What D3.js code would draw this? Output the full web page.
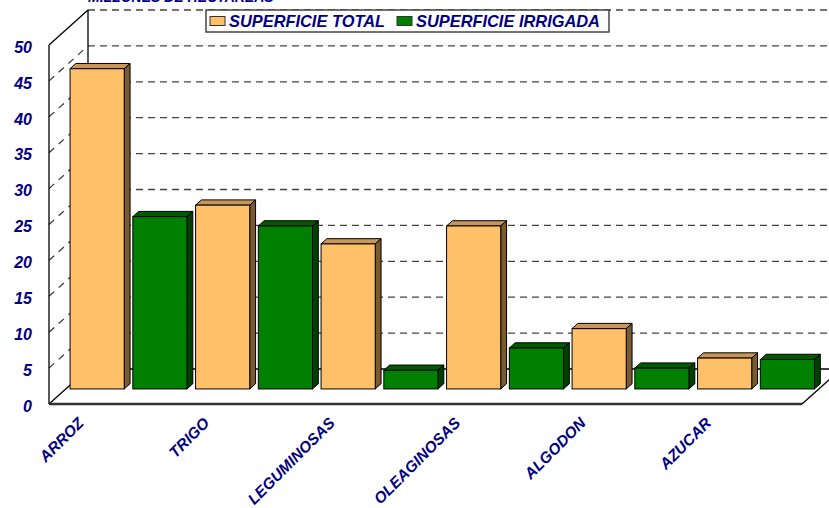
<!DOCTYPE html>
<html>
<head>
<meta charset="utf-8">
<script src="https://cdn.jsdelivr.net/npm/d3@7"></script>
<style>
  body { margin: 0; background: #fff; }
  svg { display: block; }
  text { font-family: Arial, "Liberation Sans", sans-serif; font-weight: bold; font-style: italic; fill: #000080; }
</style>
</head>
<body>
<div id="chart"></div>
<script>
const categories = ["ARROZ", "TRIGO", "LEGUMINOSAS", "OLEAGINOSAS", "ALGODON", "AZUCAR"];
const seriesNames = ["SUPERFICIE TOTAL", "SUPERFICIE IRRIGADA"];
const total = [44.6, 25.6, 20.2, 22.7, 8.4, 4.3];
const irrigada = [24.0, 22.7, 2.6, 5.7, 2.9, 4.1];
const yTicks = [0, 5, 10, 15, 20, 25, 30, 35, 40, 45, 50];

const width = 829, height = 508;

// 3d look: shift from front edge to back wall
const depthX = 39, depthY = -35;
const barF = 0.43, barDepth = 0.15;

const svg = d3.select("#chart").append("svg")
  .attr("width", width)
  .attr("height", height);

const y = d3.scaleLinear().domain([0, 50]).range([404, 45]);
const x0 = 49, x1 = 802;

const xCat = d3.scaleBand()
  .domain(categories)
  .range([x0 + barF * depthX, x1 + barF * depthX]);

const xSer = d3.scaleBand()
  .domain(seriesNames)
  .range([0, xCat.bandwidth()])
  .paddingInner(0.137)
  .paddingOuter(0.0685);

const colors = {
  "SUPERFICIE TOTAL": { front: "#ffc06a", top: "#c8965a", side: "#7a5a30" },
  "SUPERFICIE IRRIGADA": { front: "#008000", top: "#005a00", side: "#004000" }
};

// title (cut at top, like the source)
svg.append("text")
  .attr("x", 88).attr("y", 2)
  .style("font-size", "14px")
  .text("MILLONES DE HECTAREAS");

// walls
const wallBack = svg.append("g");
const backTop = y(50) + depthY, backBottom = y(0) + depthY;

// back wall gridlines
wallBack.selectAll("line.grid")
  .data(yTicks)
  .join("line")
  .attr("x1", x0 + depthX).attr("x2", x1 + depthX)
  .attr("y1", d => y(d) + depthY).attr("y2", d => y(d) + depthY)
  .attr("stroke", d => d === 0 ? "#000" : "#444")
  .attr("stroke-width", d => d === 0 ? 1.5 : 1.3)
  .attr("stroke-dasharray", d => d === 0 ? null : "7,5");

// side wall gridlines
wallBack.selectAll("line.side")
  .data(yTicks.filter(d => d > 0 && d < 50))
  .join("line")
  .attr("x1", x0).attr("y1", d => y(d))
  .attr("x2", x0 + depthX).attr("y2", d => y(d) + depthY)
  .attr("stroke", "#333")
  .attr("stroke-width", 1.2)
  .attr("stroke-dasharray", "7,6");

// wall edges
const edge = (a, b, w) => wallBack.append("line")
  .attr("x1", a[0]).attr("y1", a[1]).attr("x2", b[0]).attr("y2", b[1])
  .attr("stroke", "#000").attr("stroke-width", w);
edge([x0 + depthX, backTop], [x0 + depthX, backBottom], 1.3);
edge([x0, y(50)], [x0, y(0)], 1.3);
edge([x0, y(50)], [x0 + depthX, backTop], 1.3);
edge([x0, y(0)], [x0 + depthX, backBottom], 1.3);
edge([x1, y(0)], [x1 + depthX, backBottom], 1.3);

// bars
const data = [];
categories.forEach((c, i) => {
  data.push({ cat: c, ser: seriesNames[0], v: total[i] });
  data.push({ cat: c, ser: seriesNames[1], v: irrigada[i] });
});

const bdx = barDepth * depthX, bdy = barDepth * depthY;
const baseY = y(0) + barF * depthY;
const yBar = v => y(v) + barF * depthY;

const bars = svg.append("g").selectAll("g")
  .data(data)
  .join("g");

bars.each(function (d) {
  const g = d3.select(this);
  const xl = xCat(d.cat) + xSer(d.ser), xr = xl + xSer.bandwidth();
  const yt = yBar(d.v), yb = baseY;
  const c = colors[d.ser];
  const pts = a => a.map(p => p.join(",")).join(" ");
  g.append("polygon")
    .attr("points", pts([[xl, yt], [xl + bdx, yt + bdy], [xr + bdx, yt + bdy], [xr, yt]]))
    .attr("fill", c.top).attr("stroke", "#000").attr("stroke-width", 1);
  g.append("polygon")
    .attr("points", pts([[xr, yt], [xr + bdx, yt + bdy], [xr + bdx, yb + bdy], [xr, yb]]))
    .attr("fill", c.side).attr("stroke", "#000").attr("stroke-width", 1);
  g.append("rect")
    .attr("x", xl).attr("y", yt)
    .attr("width", xr - xl).attr("height", yb - yt)
    .attr("fill", c.front).attr("stroke", "#000").attr("stroke-width", 1);
});

// front floor edge
svg.append("line")
  .attr("x1", x0).attr("x2", x1)
  .attr("y1", y(0)).attr("y2", y(0))
  .attr("stroke", "#333").attr("stroke-width", 2.5);

// y labels
svg.append("g").selectAll("text")
  .data(yTicks)
  .join("text")
  .attr("x", 32)
  .attr("y", d => y(d) + 2)
  .attr("dy", "0.36em")
  .attr("text-anchor", "end")
  .style("font-size", "16px")
  .text(d => d);

// x labels
svg.append("g").selectAll("text")
  .data(categories)
  .join("text")
  .attr("text-anchor", "end")
  .attr("transform", d => `translate(${xCat(d) + 19},424) rotate(-45)`)
  .style("font-size", "15.5px")
  .text(d => d);

// legend
const legend = svg.append("g");
legend.append("rect")
  .attr("x", 206).attr("y", 10)
  .attr("width", 403).attr("height", 22)
  .attr("fill", "#fff").attr("stroke", "#444").attr("stroke-width", 1.5);

const legX = [210, 397];
seriesNames.forEach((s, i) => {
  legend.append("rect")
    .attr("x", legX[i]).attr("y", 16.5)
    .attr("width", 15).attr("height", 9)
    .attr("fill", colors[s].front).attr("stroke", "#333").attr("stroke-width", 1);
  legend.append("text")
    .attr("x", legX[i] + 19).attr("y", 26.5)
    .style("font-size", "16.4px")
    .text(s);
});
</script>
</body>
</html>
